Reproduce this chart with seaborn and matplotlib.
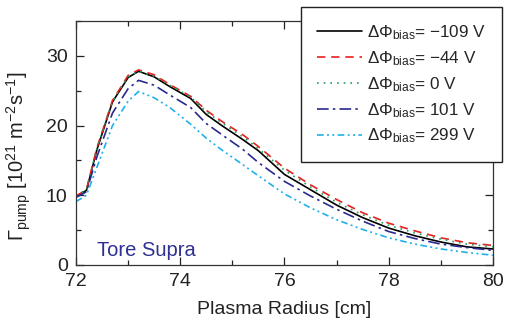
import numpy as np
import pandas as pd
import matplotlib
matplotlib.use('Agg')
import matplotlib.pyplot as plt
import seaborn as sns
from matplotlib.ticker import MultipleLocator

# data
radius = [72, 72.2, 72.4, 72.7, 73.0, 73.2, 73.5, 73.8, 74.2, 74.5, 74.8,
          75.2, 75.5, 76.0, 76.5, 77.0, 77.5, 78.0, 78.5, 79.0, 79.5, 80.0]
g_m109 = [9.8, 10.7, 16.5, 23.4, 26.9, 27.8, 27.0, 25.6, 23.9, 21.6, 20.0,
          18.0, 16.4, 13.0, 10.8, 8.6, 6.8, 5.3, 4.2, 3.3, 2.6, 2.3]
g_m44 = [9.9, 10.8, 16.8, 23.6, 27.2, 28.0, 27.3, 25.9, 24.2, 22.2, 20.6,
         18.7, 17.0, 13.9, 11.5, 9.4, 7.5, 6.0, 4.9, 3.9, 3.2, 2.8]
g_0 = [9.9, 10.8, 16.7, 23.5, 27.0, 27.8, 27.1, 25.8, 24.1, 22.0, 20.4,
       18.4, 16.7, 13.6, 11.2, 9.0, 7.2, 5.7, 4.6, 3.7, 3.0, 2.6]
g_101 = [9.7, 10.5, 15.5, 21.8, 25.3, 26.5, 25.8, 24.4, 22.6, 20.3, 18.7,
         16.6, 14.7, 12.0, 9.9, 8.0, 6.3, 4.8, 3.8, 3.0, 2.5, 2.1]
g_299 = [9.1, 10.0, 14.0, 20.0, 23.5, 24.9, 24.0, 22.6, 20.2, 18.2, 16.5,
         14.4, 12.8, 10.2, 8.2, 6.5, 5.1, 3.9, 3.0, 2.3, 1.8, 1.4]
labels = ['\u2212109 V', '\u221244 V', '0 V', '101 V', '299 V']

series = [g_m109, g_m44, g_0, g_101, g_299]
colors = ['black', '#e8211f', '#20a060', '#2a2a8e', '#1fb0ea']
styles = ['-', (0, (5, 3.5)), (0, (1, 3)), (0, (7, 2.5, 1.5, 2.5)),
          (0, (4, 2, 1.2, 2, 1.2, 2))]

sns.set_style('ticks')
plt.rcParams['font.family'] = ['Liberation Sans', 'DejaVu Sans']
plt.rcParams['mathtext.fontset'] = 'custom'
plt.rcParams['mathtext.rm'] = 'Liberation Sans'
plt.rcParams['mathtext.it'] = 'Liberation Sans:italic'
plt.rcParams['mathtext.bf'] = 'Liberation Sans:bold'

fig = plt.figure(figsize=(5.05, 3.35), dpi=100)
ax = fig.add_axes([0.1505, 0.209, 0.8255, 0.728])

for vals, lab, c, ls in zip(series, labels, colors, styles):
    df = pd.DataFrame({'r': radius, 'g': vals})
    sns.lineplot(data=df, x='r', y='g', color=c, linestyle=ls, lw=1.2,
                 label='\u0394\u03a6$_{\\mathrm{bias}}$= ' + lab, ax=ax)

ax.set_xlim(72, 80)
ax.set_ylim(0, 35)
ax.xaxis.set_major_locator(MultipleLocator(2))
ax.xaxis.set_minor_locator(MultipleLocator(1))
ax.yaxis.set_major_locator(MultipleLocator(10))
ax.yaxis.set_minor_locator(MultipleLocator(5))
ax.tick_params(which='both', direction='in', top=True, right=True,
               labelsize=14, colors='#222222', width=0.9)
ax.tick_params(which='major', length=6, pad=6)
ax.tick_params(which='minor', length=3.5)
for s in ax.spines.values():
    s.set_color('#333333')
    s.set_linewidth(0.9)

ax.set_xlabel('Plasma Radius [cm]', fontsize=14, color='#222222', labelpad=8)
ax.set_ylabel('$\\Gamma_{\\mathrm{pump}}$ [10$^{21}$ m$^{-2}$s$^{-1}$]',
              fontsize=14.5, color='#222222')
ax.yaxis.set_label_coords(-0.103, 0.447)

ax.text(72.40, 2.15, 'Tore Supra', color='#2e3192', fontsize=14.5, va='center')

leg = ax.legend(loc='upper right', bbox_to_anchor=(1.022, 1.058),
                borderaxespad=0, fontsize=12.3, handlelength=2.6,
                handletextpad=0.3, labelspacing=0.42, borderpad=0.95,
                fancybox=False, framealpha=1, edgecolor='#222222')
leg.get_frame().set_linewidth(1.0)

fig.savefig('out.png', dpi=100)
